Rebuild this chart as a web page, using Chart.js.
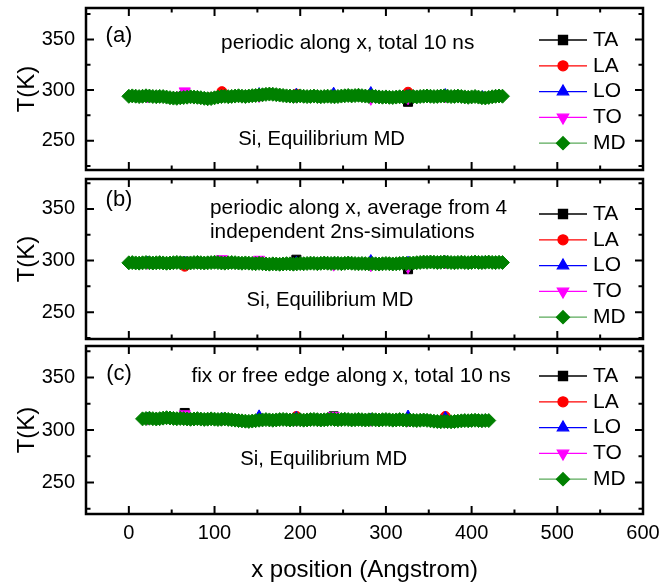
<!DOCTYPE html>
<html>
<head>
<meta charset="utf-8">
<script src="https://cdn.jsdelivr.net/npm/chart.js@4.4.1/dist/chart.umd.min.js"></script>
<style>
  html, body { margin: 0; padding: 0; background: #fff; }
  #wrap { position: relative; width: 663px; height: 588px; }
  #wrap canvas { position: absolute; left: 0; }
</style>
</head>
<body>
<div id="wrap">
  <canvas id="panelA" width="663" height="178" style="top:0px"></canvas>
  <canvas id="panelB" width="663" height="176" style="top:171px"></canvas>
  <canvas id="panelC" width="663" height="250" style="top:338px"></canvas>
</div>
<script>
// tick values
const xTicks = [0, 100, 200, 300, 400, 500, 600];
const xMinor = [-50, 50, 150, 250, 350, 450, 550];
const yTicks = [250, 300, 350];
const yMinor = [225, 275, 325, 375];

// block centres where the phonon-mode temperatures are given
const blockX = [21.7, 65.2, 108.6, 152, 195.5, 239, 282.4, 325.8, 369.3, 412.7];

// MD sample positions
const mdXab = [0, 4, 8, 12, 16, 20, 24, 28, 32, 36, 40, 44, 48, 52, 56, 60, 64, 68, 72, 76,
  80, 84, 88, 92, 96, 100, 104, 108, 112, 116, 120, 124, 128, 132, 136, 140, 144, 148, 152, 156,
  160, 164, 168, 172, 176, 180, 184, 188, 192, 196, 200, 204, 208, 212, 216, 220, 224, 228, 232, 236,
  240, 244, 248, 252, 256, 260, 264, 268, 272, 276, 280, 284, 288, 292, 296, 300, 304, 308, 312, 316,
  320, 324, 328, 332, 336, 340, 344, 348, 352, 356, 360, 364, 368, 372, 376, 380, 384, 388, 392, 396,
  400, 404, 408, 412, 416, 420, 424, 428, 432, 436];
const mdXc = [16, 20, 24, 28, 32, 36, 40, 44, 48, 52, 56, 60, 64, 68, 72, 76, 80, 84, 88, 92,
  96, 100, 104, 108, 112, 116, 120, 124, 128, 132, 136, 140, 144, 148, 152, 156, 160, 164, 168, 172,
  176, 180, 184, 188, 192, 196, 200, 204, 208, 212, 216, 220, 224, 228, 232, 236, 240, 244, 248, 252,
  256, 260, 264, 268, 272, 276, 280, 284, 288, 292, 296, 300, 304, 308, 312, 316, 320, 324, 328, 332,
  336, 340, 344, 348, 352, 356, 360, 364, 368, 372, 376, 380, 384, 388, 392, 396, 400, 404, 408, 412,
  416, 420];

// (a) periodic along x, total 10 ns
const taA = [293.6, 293.5, 293.6, 294, 294, 293.6, 293.8, 288.4, 293.8, 293];
const laA = [293.8, 294, 298.4, 294.5, 295.9, 293.6, 294, 297.8, 294, 293];
const loA = [293.6, 295.4, 293.6, 296, 295.4, 296.4, 297, 294, 295, 293];
const toA = [293.6, 298.9, 293.6, 294, 293.5, 293.8, 291.3, 291.9, 293.8, 293];
const mdA = [293.8, 294.2, 293.9, 293.5, 293.8, 294.3, 294, 293.6, 293.4, 293.7, 293.5, 293,
  292.4, 292, 291.8, 292.3, 292.6, 292.9,
  293.3, 293, 292.8, 292.4, 291.8, 291.4,
  291.6, 292.3,
  293, 293.5, 293.8, 293.4, 293.7, 294, 294.3, 293.9, 293.6, 294, 294.4, 294.6, 295, 295.3,
  295.7, 296, 295.8, 295.4, 295, 294.6,
  294.2, 294, 293.7, 293.9, 294.2, 293.8,
  293.5, 293.7, 294, 293.6, 293.3, 293.6, 293.9, 293.5, 293.3, 293.6,
  294, 294.3, 294.6, 294.2, 294.5, 294.8, 294.4, 294, 293.7, 294,
  293.6, 293.2, 292.9, 293.2, 292.8, 292.6, 293, 293.3, 293.1, 293.4,
  293.8, 293.5, 293.2, 293.6, 293.9, 294.1, 293.8, 293.5, 293.7, 294,
  294.2, 293.9, 293.5, 293.7, 294, 293.6, 293.2, 292.8, 293.2, 293.6,
  293, 292.4, 292.2, 292.7,
  293.3, 293.8, 294.1, 293.9];

// (b) periodic along x, average of 4 runs
const taB = [297.8, 298.9, 297.8, 297.5, 300.8, 297.3, 297, 291.6, 298.3, 298.2];
const laB = [297.8, 294.5, 297.8, 297.3, 297, 297.3, 297, 297.2, 299.3, 298.2];
const loB = [297.8, 297.9, 297.8, 297.3, 297.9, 297, 299.5, 297.9, 298.3, 298.2];
const toB = [297.8, 297.6, 301.6, 301, 297, 296, 295.4, 293.5, 298.3, 298.2];
const mdB = [297.8, 298, 297.7, 297.5, 297.8, 298.1, 297.9, 297.6, 297.8, 298, 297.7, 297.4,
  297.6, 297.9, 298.2, 297.9, 297.6, 297.4, 297.7, 298, 298.2, 297.9, 297.6, 297.8,
  298, 298.3, 298, 297.7, 297.5, 297.8, 298.1, 297.9, 297.6, 297.4, 297.7, 297.5,
  297.2, 297, 297.3, 297, 296.7, 296.5, 296.8, 296.6, 296.4, 296.7, 297, 296.8,
  296.5, 296.8, 297.1, 296.9, 297.2, 297.5, 297.3, 297, 297.3, 297.6, 297.4, 297.2,
  297.5, 297.3, 297, 297.3, 297.6, 297.4, 297.1, 296.9, 297.2, 297, 296.8, 297.1,
  296.8, 296.6, 296.9, 297.2, 297, 296.7, 296.9, 297.2, 297.4, 297.1, 297.3, 297.6,
  297.9, 298.2, 298.5, 298.3, 298.6, 298.4, 298.1, 298.3, 298.6, 298.4, 298.1, 297.9,
  298.2, 298.4, 298.1, 297.9, 298.2, 298.5, 298.2, 298, 298.3, 298.5, 298.2, 298, 298.3, 298.1];

// (c) fix or free edge
const taC = [310.8, 316.2, 310.5, 309.5, 309.6, 313, 309.7, 309.5, 308.2, 308.9];
const laC = [310.8, 310.5, 310.5, 309.5, 312.9, 310, 309.7, 309.5, 312.9, 308.9];
const loC = [310.8, 311, 310.5, 313, 311.6, 310, 309.7, 312.8, 311.6, 308.9];
const toC = [310.8, 315.2, 310.5, 309.5, 309.6, 313.5, 309.7, 309.5, 308.2, 308.9];
const mdC = [310.6, 310.9, 311.2, 310.8, 310.5, 310.8, 311.3, 311.7, 311.4, 311,
  310.7, 311, 310.8, 310.5, 310.2, 310.5, 310.8, 310.4, 310.1, 310.3,
  310.6, 310.3, 310, 310.2, 310.5, 310.1, 309.7, 309.4, 309, 308.7,
  308.4, 308.2, 308.5, 308.9, 309.3, 309.6, 309.9, 309.6, 309.3, 309.6,
  309.9, 310.1, 309.8, 309.5, 309.7, 310, 309.7, 309.4, 309.6, 309.9,
  310.1, 309.8, 309.5, 309.7, 310, 310.3, 310, 309.7, 309.9, 310.2,
  309.9, 309.6, 309.8, 310.1, 309.8, 309.5, 309.7, 310, 309.7, 309.5,
  309.8, 310, 309.7, 309.4, 309.6, 309.9, 309.6, 309.3, 309.5, 309.3,
  309, 309.3, 309.5, 309.2, 308.8, 308.4, 308.1, 307.9, 308.2, 308,
  307.8, 308.1, 308.4, 308.7, 309, 308.8, 309.1, 309.3, 309, 308.8, 309.1, 309];

const FONT = '"Liberation Sans", Arial, sans-serif';
Chart.defaults.font.family = FONT;
Chart.defaults.color = '#000';

// frame, inward ticks, panel texts and the Origin-like legend
const panelDeco = {
  id: 'panelDeco',
  afterDraw(chart, args, opts) {
    const {ctx, chartArea: a, scales: {x, y}} = chart;
    ctx.save();
    ctx.strokeStyle = '#000';
    ctx.lineWidth = 2;
    ctx.beginPath();
    const yTick = (v, len) => {
      const py = y.getPixelForValue(v);
      ctx.moveTo(a.left, py); ctx.lineTo(a.left + len, py);
      ctx.moveTo(a.right, py); ctx.lineTo(a.right - len, py);
    };
    const xTick = (v, len) => {
      const px = x.getPixelForValue(v);
      ctx.moveTo(px, a.top); ctx.lineTo(px, a.top + len);
      ctx.moveTo(px, a.bottom); ctx.lineTo(px, a.bottom - len);
    };
    yTicks.forEach(v => yTick(v, 8));
    yMinor.forEach(v => yTick(v, 4.5));
    xTicks.forEach(v => xTick(v, 8));
    xMinor.forEach(v => xTick(v, 4.5));
    ctx.stroke();

    ctx.lineWidth = 2.5;
    ctx.strokeRect(a.left, a.top, a.right - a.left, a.bottom - a.top);

    ctx.fillStyle = '#000';
    ctx.textBaseline = 'middle';
    opts.texts.forEach(t => {
      ctx.font = t.size + 'px ' + FONT;
      ctx.textAlign = t.align || 'center';
      ctx.fillText(t.text, a.left + t.dx, a.top + t.dy);
    });

    chart.data.datasets.forEach((ds, i) => {
      const ly = a.top + opts.legendTop + i * 25.8;
      ctx.strokeStyle = ds.borderColor;
      ctx.lineWidth = 1.3;
      ctx.beginPath();
      ctx.moveTo(539, ly);
      ctx.lineTo(587, ly);
      ctx.stroke();
      ctx.fillStyle = ds.backgroundColor;
      ctx.strokeStyle = ds.backgroundColor;
      Chart.helpers.drawPoint(ctx, {
        pointStyle: ds.pointStyle, radius: ds.legendRadius,
        rotation: ds.pointRotation || 0, borderWidth: 1
      }, 563, ly);
      ctx.fillStyle = '#000';
      ctx.font = '21px ' + FONT;
      ctx.textAlign = 'left';
      ctx.fillText(ds.label, 593, ly);
    });
    ctx.restore();
  }
};

function series(label, color, lineColor, style, radius, rot, xs, ys, order) {
  return {
    label: label,
    data: xs.map((v, i) => ({x: v, y: ys[i]})),
    borderColor: lineColor,
    backgroundColor: color,
    pointBorderColor: color,
    pointBackgroundColor: color,
    pointStyle: style,
    pointRadius: radius,
    legendRadius: Math.min(radius, 6.5),
    pointRotation: rot,
    pointBorderWidth: 1,
    borderWidth: 1,
    tension: 0,
    order: order
  };
}

function makeSets(ta, la, lo, to, mdX, md) {
  return [
    series('TA', '#000000', '#000000', 'rect', 6.4, 0, blockX, ta, 5),
    series('LA', '#ff0000', '#ff0000', 'circle', 5, 0, blockX, la, 4),
    series('LO', '#0000ff', '#0000ff', 'triangle', 6.5, 0, blockX, lo, 3),
    series('TO', '#ff00ff', '#ff00ff', 'triangle', 6.5, 180, blockX, to, 2),
    series('MD', '#008000', '#5aaa5a', 'rectRot', 7, 0, mdX, md, 1)
  ];
}

function makeChart(id, datasets, yMin, yMax, showX, padding, deco) {
  return new Chart(document.getElementById(id), {
    type: 'line',
    data: { datasets: datasets },
    options: {
      responsive: false,
      animation: false,
      devicePixelRatio: 1,
      layout: { padding: padding },
      plugins: {
        legend: { display: false },
        tooltip: { enabled: false },
        panelDeco: deco
      },
      scales: {
        x: {
          type: 'linear', min: -50, max: 600, display: showX,
          afterBuildTicks: s => { s.ticks = xTicks.map(v => ({value: v})); },
          afterFit: s => {
            if (showX) s.height = 74;
            s.paddingLeft = 0; s.paddingRight = 0;
          },
          grid: { display: false, drawTicks: false },
          border: { display: false },
          ticks: { padding: 7, font: { size: 20 }, maxRotation: 0, autoSkip: false },
          title: { display: true, text: 'x position (Angstrom)', font: { size: 24 },
                   padding: { top: 0, bottom: 3.6 } }
        },
        y: {
          type: 'linear', min: yMin, max: yMax,
          afterBuildTicks: s => { s.ticks = yTicks.map(v => ({value: v})); },
          afterFit: s => {
            s.width = 86;
            s.paddingTop = 0; s.paddingBottom = 0;
          },
          grid: { display: false, drawTicks: false },
          border: { display: false },
          ticks: { padding: 11, font: { size: 20 } },
          title: { display: true, text: 'T(K)', font: { size: 24 },
                   padding: { top: 12.6, bottom: 0 } }
        }
      }
    },
    plugins: [panelDeco]
  });
}

makeChart('panelA', makeSets(taA, laA, loA, toA, mdXab, mdA), 221, 381, false,
  { top: 5, bottom: 5, left: 0, right: 20 },
  { legendTop: 32, texts: [
    { text: '(a)', dx: 33, dy: 28, size: 22 },
    { text: 'periodic along x, total 10 ns', dx: 261.7, dy: 35, size: 20.8 },
    { text: 'Si, Equilibrium MD', dx: 235.6, dy: 131.7, size: 20.3 }
  ] });

makeChart('panelB', makeSets(taB, laB, loB, toB, mdXab, mdB), 224, 379, false,
  { top: 6, bottom: 7, left: 0, right: 20 },
  { legendTop: 35, texts: [
    { text: '(b)', dx: 33, dy: 21, size: 22 },
    { text: 'periodic along x, average from 4', dx: 124, dy: 29.7, size: 20.8, align: 'left' },
    { text: 'independent 2ns-simulations', dx: 124, dy: 53, size: 20.8, align: 'left' },
    { text: 'Si, Equilibrium MD', dx: 244, dy: 121, size: 20.3 }
  ] });

makeChart('panelC', makeSets(taC, laC, loC, toC, mdXc, mdC), 220, 380, true,
  { top: 7, bottom: 0, left: 0, right: 20 },
  { legendTop: 30, texts: [
    { text: '(c)', dx: 33, dy: 28, size: 22 },
    { text: 'fix or free edge along x, total 10 ns', dx: 265, dy: 30, size: 20.8 },
    { text: 'Si, Equilibrium MD', dx: 237.7, dy: 113, size: 20.3 }
  ] });
</script>
</body>
</html>
